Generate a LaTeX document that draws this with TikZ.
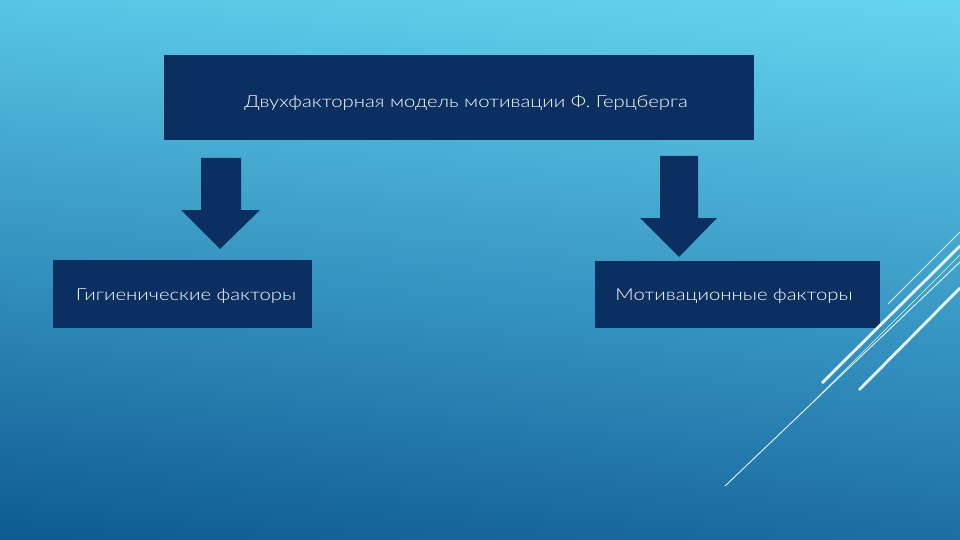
\documentclass[tikz,border=0pt]{standalone}
\usepackage{fontspec}
\usetikzlibrary{shadings}
\newfontfamily\gfont[FakeStretch=1.23]{Lato Light}
\definecolor{navy}{HTML}{0B2F60}
\definecolor{bgTL}{HTML}{58C5E5}
\definecolor{bgTR}{HTML}{64D5F1}
\definecolor{bgBL}{HTML}{0E5A92}
\definecolor{bgBR}{HTML}{1C6EA5}
\definecolor{streak}{HTML}{E6F7FC}
\tikzset{
  box/.style={fill=navy, draw=none, inner sep=0pt},
  boxtext/.style={text=white, inner sep=0pt, font=\gfont\fontsize{16.5}{19}\selectfont},
  blockarrow/.style={fill=navy, draw=none},
  thinstreak/.style={draw=streak, line width=0.9pt},
  thickstreak/.style={draw=streak, line width=2.8pt},
}
\begin{document}
\begin{tikzpicture}[x=1pt,y=-1pt]
\useasboundingbox (0,0) rectangle (960,540);
\shade[upper left=bgTL, upper right=bgTR, lower left=bgBL, lower right=bgBR] (0,0) rectangle (960,540);
% boxes
\node[box, minimum width=590pt, minimum height=85pt,
  label={[boxtext, xshift=7pt, yshift=-5.5pt]center:Двухфакторная модель мотивации Ф. Герцберга}] (top) at (459,97.5) {};
\node[box, minimum width=259pt, minimum height=68pt,
  label={[boxtext, xshift=3.5pt, yshift=-2pt]center:Гигиенические факторы}] (left) at (182.5,294) {};
\node[box, minimum width=285pt, minimum height=67pt,
  label={[boxtext, xshift=-3.5pt, yshift=-1.5pt]center:Мотивационные факторы}] (right) at (737.5,294.5) {};
% block arrows
\fill[blockarrow] (201,158) -- (241,158) -- (241,210) -- (260,210) -- (220,249) -- (181,210) -- (201,210) -- cycle;
\fill[blockarrow] (660,156) -- (698,156) -- (698,218) -- (717,218) -- (679,257) -- (640,218) -- (660,218) -- cycle;
% streaks
\draw[thinstreak] (725,486) -- (960,262);
\draw[thinstreak, line width=0.6pt] (810,405) -- (960,255);
\draw[thickstreak] (822,383) -- (960,246);
\draw[thickstreak] (859,390) -- (960,288);
\draw[thinstreak] (888,304) -- (960,232);
\end{tikzpicture}
\end{document}
